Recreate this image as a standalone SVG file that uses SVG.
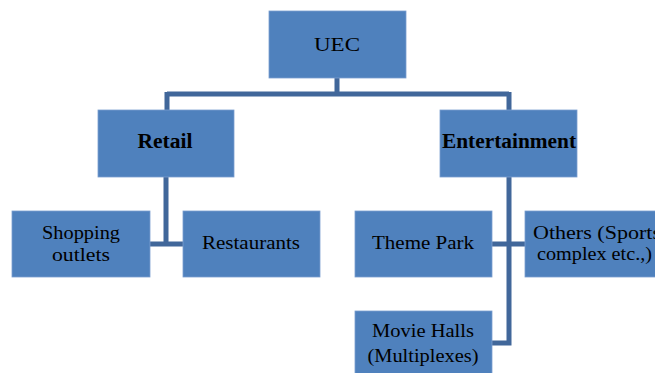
<svg xmlns="http://www.w3.org/2000/svg" width="655" height="373" viewBox="0 0 655 373">
<style>
.box{fill:#4F81BD;stroke:#7A9FCF;stroke-width:0.8}
.t{font-family:"Liberation Serif","Times New Roman",serif;font-size:19px;fill:#000}
.b{font-weight:bold;font-size:20px}
.c{fill:none;stroke:#41679A;stroke-width:5}
</style>
<rect width="655" height="373" fill="#fff"/>
<g id="connectors">
<path class="c" d="M337 78 V94 M167 94 H509 M167 92 V110 M509 92 V110"/>
<path class="c" d="M166 177 V244 M150 244 H183"/>
<path class="c" d="M509 177 V343 H492 M492 244 H525"/>
</g>
<g id="uec"><rect class="box" x="269" y="11" width="137" height="67"/><text class="t" x="337" y="51" text-anchor="middle" font-size="21" textLength="46" lengthAdjust="spacingAndGlyphs">UEC</text></g>
<g id="retail"><rect class="box" x="98" y="110" width="136" height="67"/><text class="t b" x="165" y="148" text-anchor="middle" textLength="55" lengthAdjust="spacingAndGlyphs">Retail</text></g>
<g id="entertainment"><rect class="box" x="440" y="110" width="137" height="67"/><text class="t b" x="509" y="148" text-anchor="middle" textLength="134" lengthAdjust="spacingAndGlyphs">Entertainment</text></g>
<g id="shopping"><rect class="box" x="12" y="211" width="138" height="66"/><text class="t" x="81" y="239" text-anchor="middle" textLength="78" lengthAdjust="spacingAndGlyphs">Shopping</text><text class="t" x="81" y="261" text-anchor="middle" textLength="58" lengthAdjust="spacingAndGlyphs">outlets</text></g>
<g id="restaurants"><rect class="box" x="183" y="211" width="137" height="66"/><text class="t" x="251" y="249" text-anchor="middle" textLength="98" lengthAdjust="spacingAndGlyphs">Restaurants</text></g>
<g id="themepark"><rect class="box" x="355" y="211" width="137" height="66"/><text class="t" x="423" y="249" text-anchor="middle" textLength="102" lengthAdjust="spacingAndGlyphs">Theme Park</text></g>
<g id="others"><rect class="box" x="525" y="211" width="137" height="66"/><text class="t" x="533" y="239" textLength="128" lengthAdjust="spacingAndGlyphs">Others (Sports</text><text class="t" x="537" y="260" textLength="115" lengthAdjust="spacingAndGlyphs">complex etc.,)</text></g>
<g id="moviehalls"><rect class="box" x="355" y="311" width="137" height="66"/><text class="t" x="423" y="337" text-anchor="middle" textLength="102" lengthAdjust="spacingAndGlyphs">Movie Halls</text><text class="t" x="423" y="362" text-anchor="middle" textLength="111" lengthAdjust="spacingAndGlyphs">(Multiplexes)</text></g>
</svg>
